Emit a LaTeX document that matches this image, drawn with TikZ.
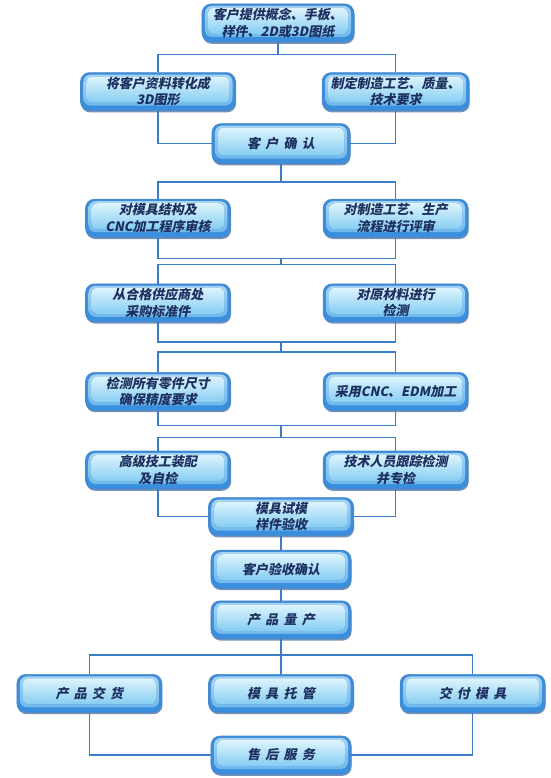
\documentclass[tikz,border=0pt]{standalone}
\usepackage{fontspec}
\newfontfamily\cjk[FakeSlant=0.2]{Noto Sans CJK SC}
\usetikzlibrary{positioning,calc,shadows}
\definecolor{boxblue}{HTML}{3A8EDE}
\definecolor{boxtop}{HTML}{DDF4FD}
\definecolor{boxlight}{HTML}{86CDF2}
\definecolor{boxedge}{HTML}{4F86C4}
\definecolor{boxshade}{HTML}{1B4A8A}
\definecolor{boxtext}{HTML}{1C2F5F}
\definecolor{linkblue}{HTML}{3B7BC8}
\newcommand{\wsp}{\hspace{0.4em}}
\tikzset{
  stage/.style={
    draw=boxedge, line width=0.6pt, rounded corners=9pt, fill=boxblue,
    minimum width=145pt, minimum height=38pt, inner sep=2pt, align=center,
    font=\cjk\bfseries\fontsize{13}{16.5}\selectfont, text=boxtext,
    drop shadow={shadow xshift=0.6pt, shadow yshift=-1.8pt, fill=boxshade, opacity=0.6},
    path picture={
      \fill[rounded corners=7pt, top color=boxtop!70!boxblue, bottom color=boxlight!60!boxblue]
        ([shift={(3pt,-2pt)}]path picture bounding box.north west) rectangle
        ([shift={(-3pt,5pt)}]path picture bounding box.south east);
      \fill[rounded corners=6pt, top color=boxtop, bottom color=boxlight]
        ([shift={(6pt,-4pt)}]path picture bounding box.north west) rectangle
        ([shift={(-6pt,8pt)}]path picture bounding box.south east);
    }
  },
  link/.style={draw=linkblue, line width=1.4pt},
}
\begin{document}
\begin{tikzpicture}[x=1pt,y=1pt]
  \useasboundingbox (-278,23) rectangle (272,-755);
  % design and confirmation
  \node[stage, minimum width=152pt] (client) {客户提供概念、手板、\\样件、2D或3D图纸};
  \node[stage, minimum width=155pt, below=30pt of client, xshift=-120pt] (convert) {将客户资料转化成\\3D图形};
  \node[stage, minimum width=147pt, right=86pt of convert] (process) {制定制造工艺、质量、\\技术要求};
  \node[stage, minimum width=138pt, minimum height=40pt, below=81pt of client, xshift=3pt] (confirm) {客\wsp 户\wsp 确\wsp 认};
  % review, purchase, machining
  \node[stage, below=88pt of convert] (structure) {对模具结构及\\CNC加工程序审核};
  \node[stage, right=92pt of structure] (review) {对制造工艺、生产\\流程进行评审};
  \node[stage, below=46pt of structure] (supplier) {从合格供应商处\\采购标准件};
  \node[stage, right=92pt of supplier] (material) {对原材料进行\\检测};
  \node[stage, below=50pt of supplier] (measure) {检测所有零件尺寸\\确保精度要求};
  \node[stage, right=92pt of measure] (cnc) {采用CNC、EDM加工};
  \node[stage, below=40pt of measure] (assemble) {高级技工装配\\及自检};
  \node[stage, right=92pt of assemble] (track) {技术人员跟踪检测\\并专检};
  % trial and delivery
  \node[stage, below=8pt of assemble, xshift=123pt] (trial) {模具试模\\样件验收};
  \node[stage, minimum width=140pt, below=14pt of trial] (accept) {客户验收确认};
  \node[stage, minimum width=140pt, below=12pt of accept] (mass) {产\wsp 品\wsp 量\wsp 产};
  \node[stage, below=35pt of mass] (custody) {模\wsp 具\wsp 托\wsp 管};
  \node[stage, left=46pt of custody] (deliver) {产\wsp 品\wsp 交\wsp 货};
  \node[stage, right=46pt of custody] (handover) {交\wsp 付\wsp 模\wsp 具};
  \node[stage, minimum width=140pt, below=23pt of custody] (service) {售\wsp 后\wsp 服\wsp 务};

  \coordinate[below=12pt of client] (split1);
  \draw[link] (client) -- (split1);
  \draw[link] (split1) -| (convert);
  \draw[link] (split1) -| (process);
  \draw[link] (convert) |- (confirm);
  \draw[link] (process) |- (confirm);
  \coordinate[below=18pt of confirm] (split2);
  \draw[link] (confirm) -- (split2);
  \draw[link] (split2) -| (structure);
  \draw[link] (split2) -| (review);
  % merge, then split again
  \coordinate (join2) at ($(structure.south -| confirm)+(0,-21pt)$);
  \coordinate (split3) at ($(join2)+(0,-6pt)$);
  \draw[link] (structure) |- (join2) -| (review);
  \draw[link] (join2) -- (split3);
  \draw[link] (supplier) |- (split3) -| (material);
  \coordinate (join3) at ($(supplier.south -| confirm)+(0,-20pt)$);
  \coordinate (split4) at ($(join3)+(0,-10pt)$);
  \draw[link] (supplier) |- (join3) -| (material);
  \draw[link] (join3) -- (split4);
  \draw[link] (measure) |- (split4) -| (cnc);
  \coordinate (join4) at ($(measure.south -| confirm)+(0,-15pt)$);
  \coordinate (split5) at ($(join4)+(0,-12pt)$);
  \draw[link] (measure) |- (join4) -| (cnc);
  \draw[link] (join4) -- (split5);
  \draw[link] (assemble) |- (split5) -| (track);
  \draw[link] (assemble) |- (trial);
  \draw[link] (track) |- (trial);
  \draw[link] (trial) -- (accept);
  \draw[link] (accept) -- (mass);
  \coordinate[below=16pt of mass] (split6);
  \draw[link] (mass) -- (custody);
  \draw[link] (split6) -| (deliver);
  \draw[link] (split6) -| (handover);
  \draw[link] (deliver) |- (service);
  \draw[link] (handover) |- (service);
\end{tikzpicture}
\end{document}
